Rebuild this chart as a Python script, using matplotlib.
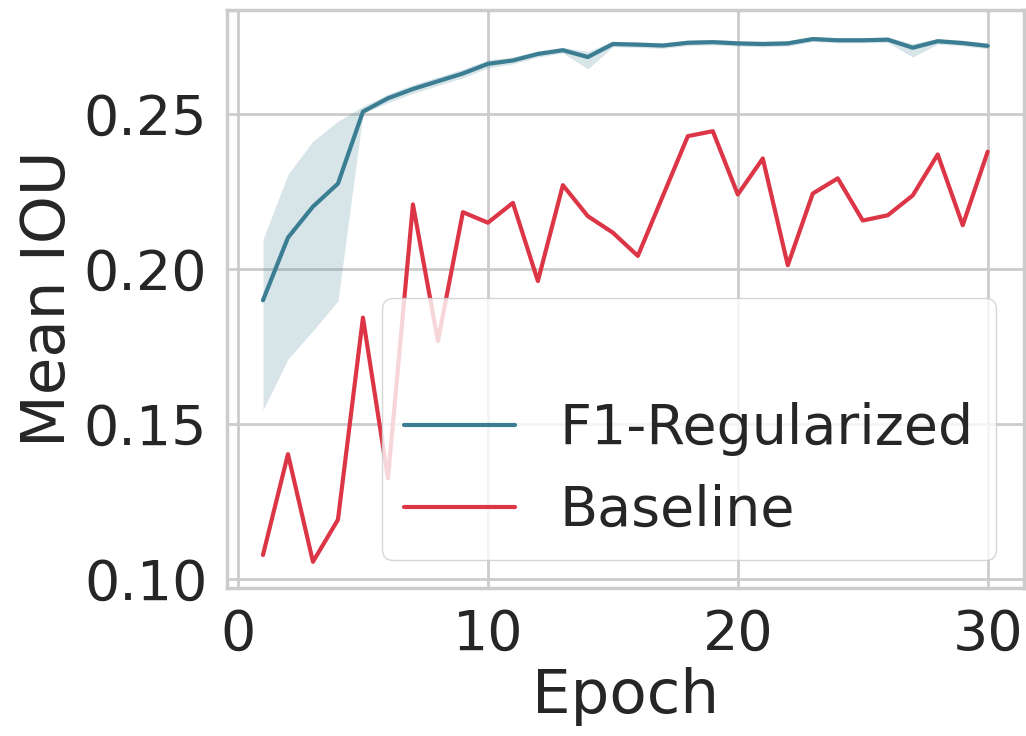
import matplotlib
matplotlib.use("Agg")
import matplotlib.pyplot as plt
import seaborn as sns
import numpy as np

epochs = list(range(1, 31))
f1_mean = [0.1898, 0.2100, 0.2200, 0.2274, 0.2506, 0.2549, 0.2579, 0.2604, 0.2629, 0.2660,
           0.2671, 0.2692, 0.2704, 0.2682, 0.2724, 0.2722, 0.2719, 0.2728, 0.2730, 0.2726,
           0.2724, 0.2726, 0.2740, 0.2736, 0.2736, 0.2738, 0.2712, 0.2733, 0.2727, 0.2718]
f1_low = [0.1544, 0.1708, 0.1800, 0.1896, 0.2500, 0.2535, 0.2565, 0.2590, 0.2615, 0.2647,
          0.2660, 0.2682, 0.2695, 0.2644, 0.2715, 0.2713, 0.2710, 0.2719, 0.2721, 0.2717,
          0.2715, 0.2717, 0.2732, 0.2728, 0.2728, 0.2729, 0.2682, 0.2724, 0.2718, 0.2709]
f1_high = [0.2094, 0.2304, 0.2411, 0.2475, 0.2523, 0.2563, 0.2593, 0.2618, 0.2643, 0.2673,
           0.2682, 0.2702, 0.2713, 0.2700, 0.2733, 0.2731, 0.2728, 0.2737, 0.2739, 0.2735,
           0.2733, 0.2735, 0.2748, 0.2744, 0.2744, 0.2747, 0.2725, 0.2742, 0.2736, 0.2727]
baseline = [0.1077, 0.1402, 0.1055, 0.1191, 0.1842, 0.1324, 0.2207, 0.1767, 0.2182, 0.2148,
            0.2212, 0.1960, 0.2269, 0.2169, 0.2116, 0.2041, 0.2234, 0.2427, 0.2443, 0.2239,
            0.2355, 0.2011, 0.2242, 0.2291, 0.2155, 0.2172, 0.2236, 0.2368, 0.2140, 0.2377]
xticks = [0, 10, 20, 30]
yticks = [0.10, 0.15, 0.20, 0.25]

sns.set_theme(style="whitegrid")
plt.rcParams['font.family'] = ['DejaVu Sans']

BLUE = "#3b7d92"
RED = "#dc3545"

fig = plt.figure(figsize=(10.26, 7.36), dpi=100)
ax = fig.add_axes([0.221, 0.201, 0.777, 0.785])

ax.fill_between(epochs, f1_low, f1_high, color=BLUE, alpha=0.2, linewidth=0)
l1, = ax.plot(epochs, f1_mean, color=BLUE, lw=3, label="F1-Regularized")
l2, = ax.plot(epochs, baseline, color=RED, lw=3, label="Baseline")
blank, = ax.plot([], [], alpha=0)

ax.set_xticks(xticks)
ax.set_yticks(yticks)
ax.set_yticklabels([f"{t:.2f}" for t in yticks])
ax.tick_params(labelsize=40, colors="#262626", pad=8)
ax.set_xlabel("Epoch", fontsize=44, color="#262626")
ax.set_ylabel("Mean IOU", fontsize=44, color="#262626")
ax.grid(True, color="#cccccc", lw=2)
for s in ax.spines.values():
    s.set_color("#cccccc")
    s.set_linewidth(2.5)

leg = ax.legend([blank, l1, l2], [" ", "F1-Regularized", "Baseline"],
                loc="lower right", fontsize=40, framealpha=0.8, handlelength=2.0,
                labelspacing=0.5, edgecolor="#cccccc")
for t in leg.get_texts():
    t.set_color("#262626")
for l in leg.get_lines():
    l.set_linewidth(3)

fig.savefig("out.png", dpi=100)
